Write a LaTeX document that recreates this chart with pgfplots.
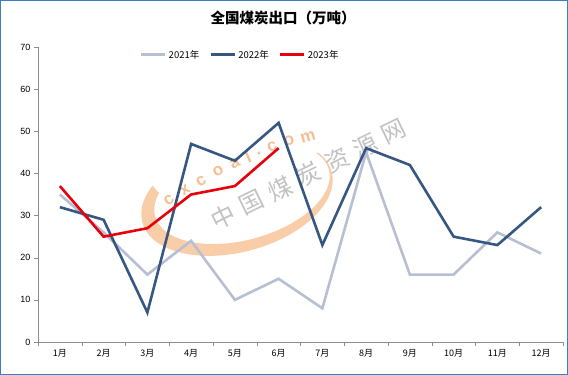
\documentclass[border=0pt]{standalone}
\usepackage{pgfplots}
\pgfplotsset{compat=1.18}
\usepackage{fontspec}
\setmainfont{Noto Sans CJK SC}
\newfontfamily\numfont{Liberation Sans}
\definecolor{c21}{HTML}{B7C0D3}
\definecolor{c22}{HTML}{375783}
\definecolor{c23}{HTML}{E8000B}
\definecolor{axgray}{HTML}{8C8C8C}
\definecolor{frameblue}{HTML}{3C7FC0}
\definecolor{wmorange}{HTML}{F9CDA8}
\definecolor{wmtext}{HTML}{F6BE92}
\definecolor{wmgray}{HTML}{C2C2C2}
\begin{document}
\begin{tikzpicture}
\useasboundingbox (0pt,0pt) rectangle (568pt,375pt);
\fill[white] (0pt,0pt) rectangle (568pt,375pt);
\draw[frameblue,line width=1.2pt] (0.6pt,0.6pt) rectangle (567.4pt,374.4pt);
\node[font=\bfseries\fontsize{14.5}{17}\selectfont] at (283pt,357pt) {全国煤炭出口（万吨）};
% faint watermark (behind the chart)
\begin{scope}
\clip (100pt,80pt) -- (380pt,80pt) -- (380pt,222pt) -- (300pt,222pt) -- (230pt,202pt) -- (168pt,172pt) -- (150pt,192pt) -- (100pt,192pt) -- cycle;
\fill[wmorange,even odd rule]
  (237pt,178pt) ellipse [x radius=98pt, y radius=55pt, rotate=15]
  (242pt,182pt) ellipse [x radius=90pt, y radius=47pt, rotate=15];
\end{scope}
\foreach \ch/\px/\py in {中/223/158,国/251.5/172.2,煤/280/186.4,炭/308.5/200.6,资/337/214.8,源/365.5/229,网/394/243}
  \node[rotate=26,text=wmgray,font=\fontsize{24}{26}\selectfont,inner sep=0pt] at (\px pt,\py pt) {\ch};
\foreach \ch/\px/\py/\r in {c/169/175/35,x/185/185/33,c/201/194/31,o/218/204/28,a/235/212/26,l/248/218/24,./259/222/22,c/272/228/20,o/289/234/17,m/308/238/15}
  \node[rotate=\r,text=wmtext,font=\numfont\bfseries\fontsize{17}{19}\selectfont,inner sep=0pt] at (\px pt,\py pt) {\ch};
\begin{axis}[
  at={(38pt,33pt)}, anchor=south west,
  scale only axis, width=525pt, height=295pt,
  xmin=0.5, xmax=12.5, ymin=0, ymax=70,
  axis lines=left, axis line style={axgray,-},
  xtick={1,...,12},
  xticklabels={1月,2月,3月,4月,5月,6月,7月,8月,9月,10月,11月,12月},
  minor xtick={0.5,1.5,...,12.5},
  major x tick style={draw=none},
  minor x tick style={axgray},
  minor tick length=4pt,
  ytick={0,10,...,70},
  y tick style={axgray},
  major tick length=4pt,
  tick align=outside,
  tick label style={font=\fontsize{9}{11}\selectfont, text=black},
  /pgf/number format/assume math mode=true,
  yticklabel style={font=\numfont\fontsize{9}{11}\selectfont},
  legend style={draw=none, fill=none, at={(0.385,0.973)}, anchor=center, legend columns=-1, font=\fontsize{9.5}{11}\selectfont, inner sep=0pt, /tikz/every even column/.append style={column sep=8pt}},
  legend image code/.code={\draw[#1,line width=3pt] (0pt,0pt) -- (24pt,0pt);},
  every axis plot/.append style={line width=2.6pt, line join=miter, mark=none},
]
\addplot[c21] coordinates {(1,35)(2,26)(3,16)(4,24)(5,10)(6,15)(7,8)(8,45)(9,16)(10,16)(11,26)(12,21)};
\addlegendentry{2021年}
\addplot[c22] coordinates {(1,32)(2,29)(3,7)(4,47)(5,43)(6,52)(7,23)(8,46)(9,42)(10,25)(11,23)(12,32)};
\addlegendentry{2022年}
\addplot[c23] coordinates {(1,37)(2,25)(3,27)(4,35)(5,37)(6,46)};
\addlegendentry{2023年}
\end{axis}
\end{tikzpicture}
\end{document}
